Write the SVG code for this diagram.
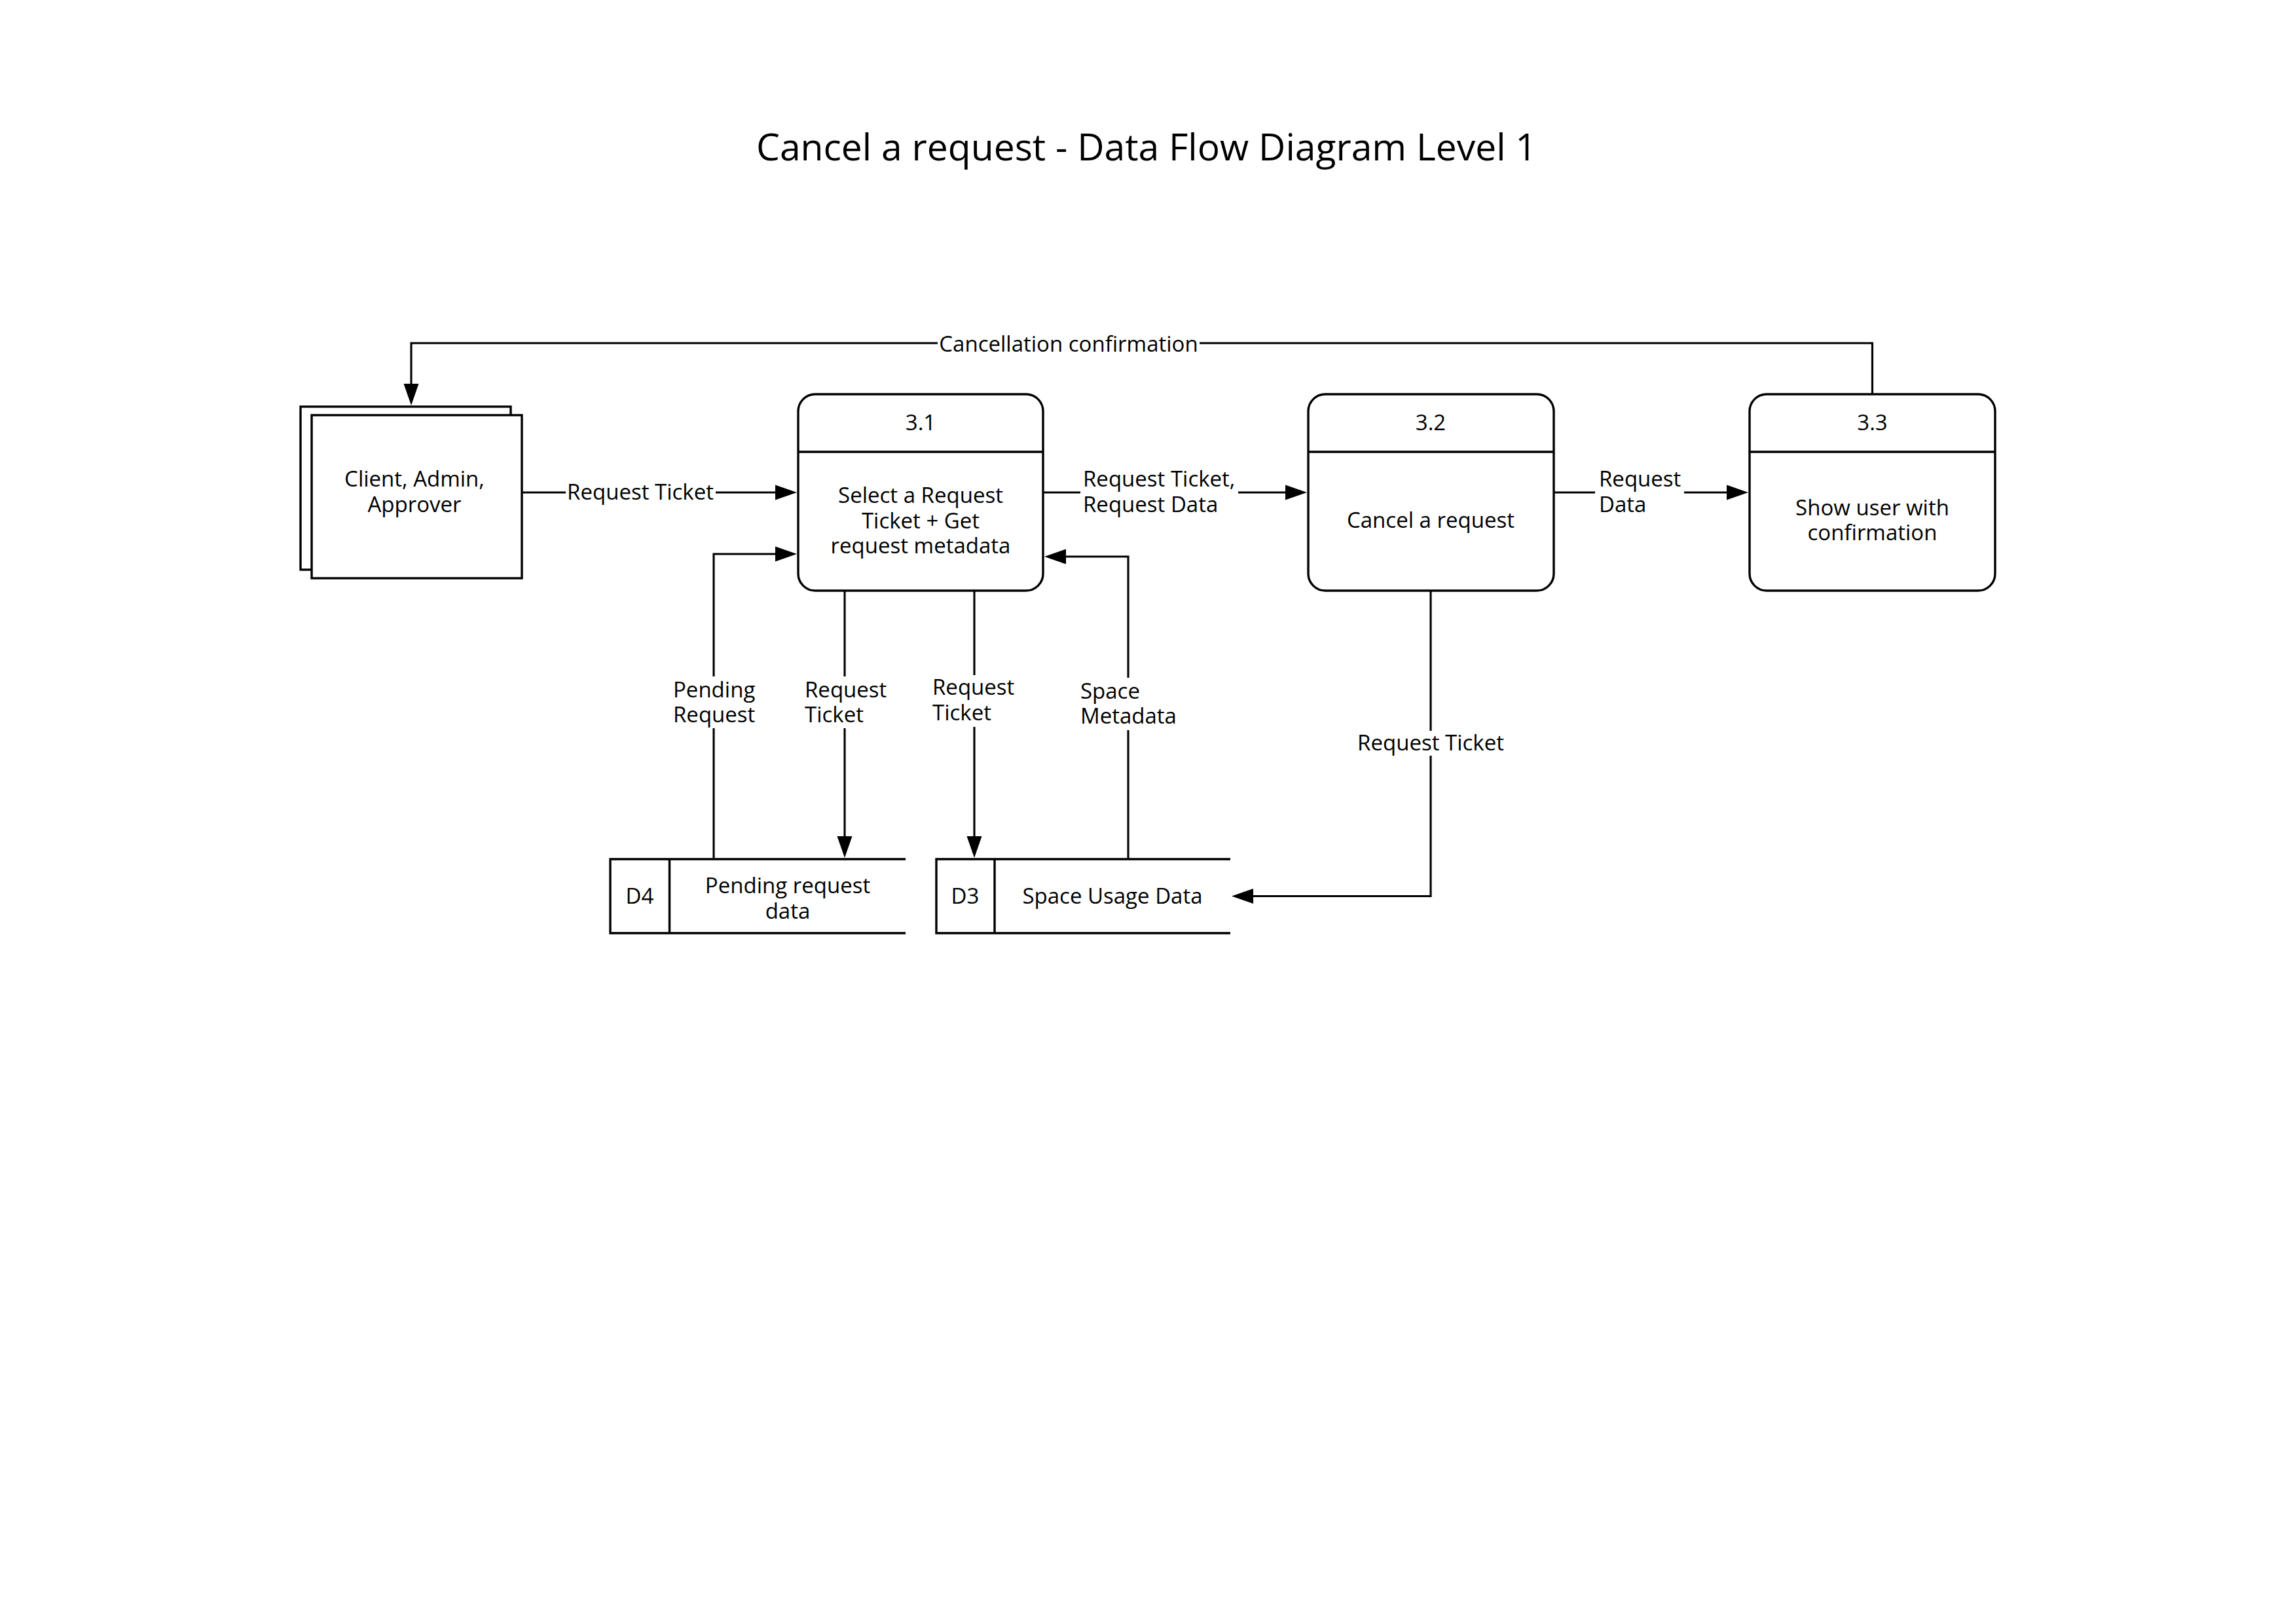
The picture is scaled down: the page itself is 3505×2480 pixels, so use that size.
<svg xmlns="http://www.w3.org/2000/svg" width="3505" height="2480" viewBox="0 0 3505 2480">
<style>
text{font-family:"Open Sans","Noto Sans","DejaVu Sans",sans-serif;font-size:33px;fill:#000}
.title{font-size:57px}
.mid{text-anchor:middle}
.shape{fill:#fff;stroke:#000;stroke-width:3.4}
.line{fill:none;stroke:#000;stroke-width:3.4}
.conn{fill:none;stroke:#000;stroke-width:3.1;marker-end:url(#arr)}
.bg{fill:#fff;stroke:none}
</style>
<defs>
<marker id="arr" markerUnits="userSpaceOnUse" markerWidth="34" markerHeight="24" refX="0" refY="11.5" orient="auto" overflow="visible">
<path d="M0,0 L33,11.5 L0,23 Z" fill="#000"/>
</marker>
</defs>
<rect width="3505" height="2480" fill="#fff"/>
<text class="title mid" x="1751" y="245">Cancel a request - Data Flow Diagram Level 1</text>

<g id="entity-client">
<rect class="shape" x="459" y="621" width="321" height="249"/>
<rect class="shape" x="476" y="634" width="321" height="249"/>
<text class="mid" x="633" y="743">Client, Admin,</text>
<text class="mid" x="633" y="782">Approver</text>
</g>

<g id="process-3-1">
<rect class="shape" x="1219" y="602" width="374" height="300" rx="26" ry="26"/>
<line class="line" x1="1219" y1="690" x2="1593" y2="690"/>
<text class="mid" x="1406" y="657">3.1</text>
<text class="mid" x="1406" y="768">Select a Request</text>
<text class="mid" x="1406" y="807">Ticket + Get</text>
<text class="mid" x="1406" y="845">request metadata</text>
</g>

<g id="process-3-2">
<rect class="shape" x="1998" y="602" width="375" height="300" rx="26" ry="26"/>
<line class="line" x1="1998" y1="690" x2="2373" y2="690"/>
<text class="mid" x="2185" y="657">3.2</text>
<text class="mid" x="2185" y="806">Cancel a request</text>
</g>

<g id="process-3-3">
<rect class="shape" x="2672" y="602" width="375" height="300" rx="26" ry="26"/>
<line class="line" x1="2672" y1="690" x2="3047" y2="690"/>
<text class="mid" x="2859.5" y="657">3.3</text>
<text class="mid" x="2859.5" y="787">Show user with</text>
<text class="mid" x="2859.5" y="825">confirmation</text>
</g>

<g id="store-d4">
<path class="line" d="M1383,1312 H932 V1425 H1383 M1022.5,1312 V1425"/>
<text class="mid" x="977" y="1380">D4</text>
<text class="mid" x="1203" y="1364">Pending request</text>
<text class="mid" x="1203" y="1403">data</text>
</g>

<g id="store-d3">
<path class="line" d="M1879,1312 H1430 V1425 H1879 M1519,1312 V1425"/>
<text class="mid" x="1474" y="1380">D3</text>
<text class="mid" x="1699" y="1380">Space Usage Data</text>
</g>

<g id="connectors">
<g id="c-cancel">
<path class="conn" d="M2859.5,602 V524 H628 V586"/>
<rect class="bg" x="1432" y="508" width="400" height="34"/>
<text class="mid" x="1632" y="537">Cancellation confirmation</text>
</g>
<g id="c-client-31">
<path class="conn" d="M797,752 H1184"/>
<rect class="bg" x="864" y="736" width="229" height="34"/>
<text class="mid" x="978" y="763">Request Ticket</text>
</g>
<g id="c-31-32">
<path class="conn" d="M1593,752 H1963"/>
<rect class="bg" x="1650" y="715" width="241" height="76"/>
<text x="1654" y="743">Request Ticket,</text>
<text x="1654" y="782">Request Data</text>
</g>
<g id="c-32-33">
<path class="conn" d="M2373,752 H2637"/>
<rect class="bg" x="2436" y="715" width="136" height="76"/>
<text x="2442" y="743">Request</text>
<text x="2442" y="782">Data</text>
</g>
<g id="c-d4-31">
<path class="conn" d="M1090,1312 V846 H1184"/>
<rect class="bg" x="1026" y="1033" width="128" height="79"/>
<text x="1028" y="1065">Pending</text>
<text x="1028" y="1103">Request</text>
</g>
<g id="c-31-d4">
<path class="conn" d="M1290,902 V1277"/>
<rect class="bg" x="1227" y="1033" width="128" height="79"/>
<text x="1229" y="1065">Request</text>
<text x="1229" y="1103">Ticket</text>
</g>
<g id="c-31-d3">
<path class="conn" d="M1488,902 V1277"/>
<rect class="bg" x="1422" y="1031" width="128" height="79"/>
<text x="1424" y="1061">Request</text>
<text x="1424" y="1100">Ticket</text>
</g>
<g id="c-d3-31">
<path class="conn" d="M1723,1312 V850 H1628"/>
<rect class="bg" x="1648" y="1035" width="150" height="80"/>
<text x="1650" y="1067">Space</text>
<text x="1650" y="1105">Metadata</text>
</g>
<g id="c-32-d3">
<path class="conn" d="M2185,902 V1368.5 H1914"/>
<rect class="bg" x="2068" y="1116" width="234" height="38"/>
<text class="mid" x="2185" y="1146">Request Ticket</text>
</g>
</g>
</svg>
